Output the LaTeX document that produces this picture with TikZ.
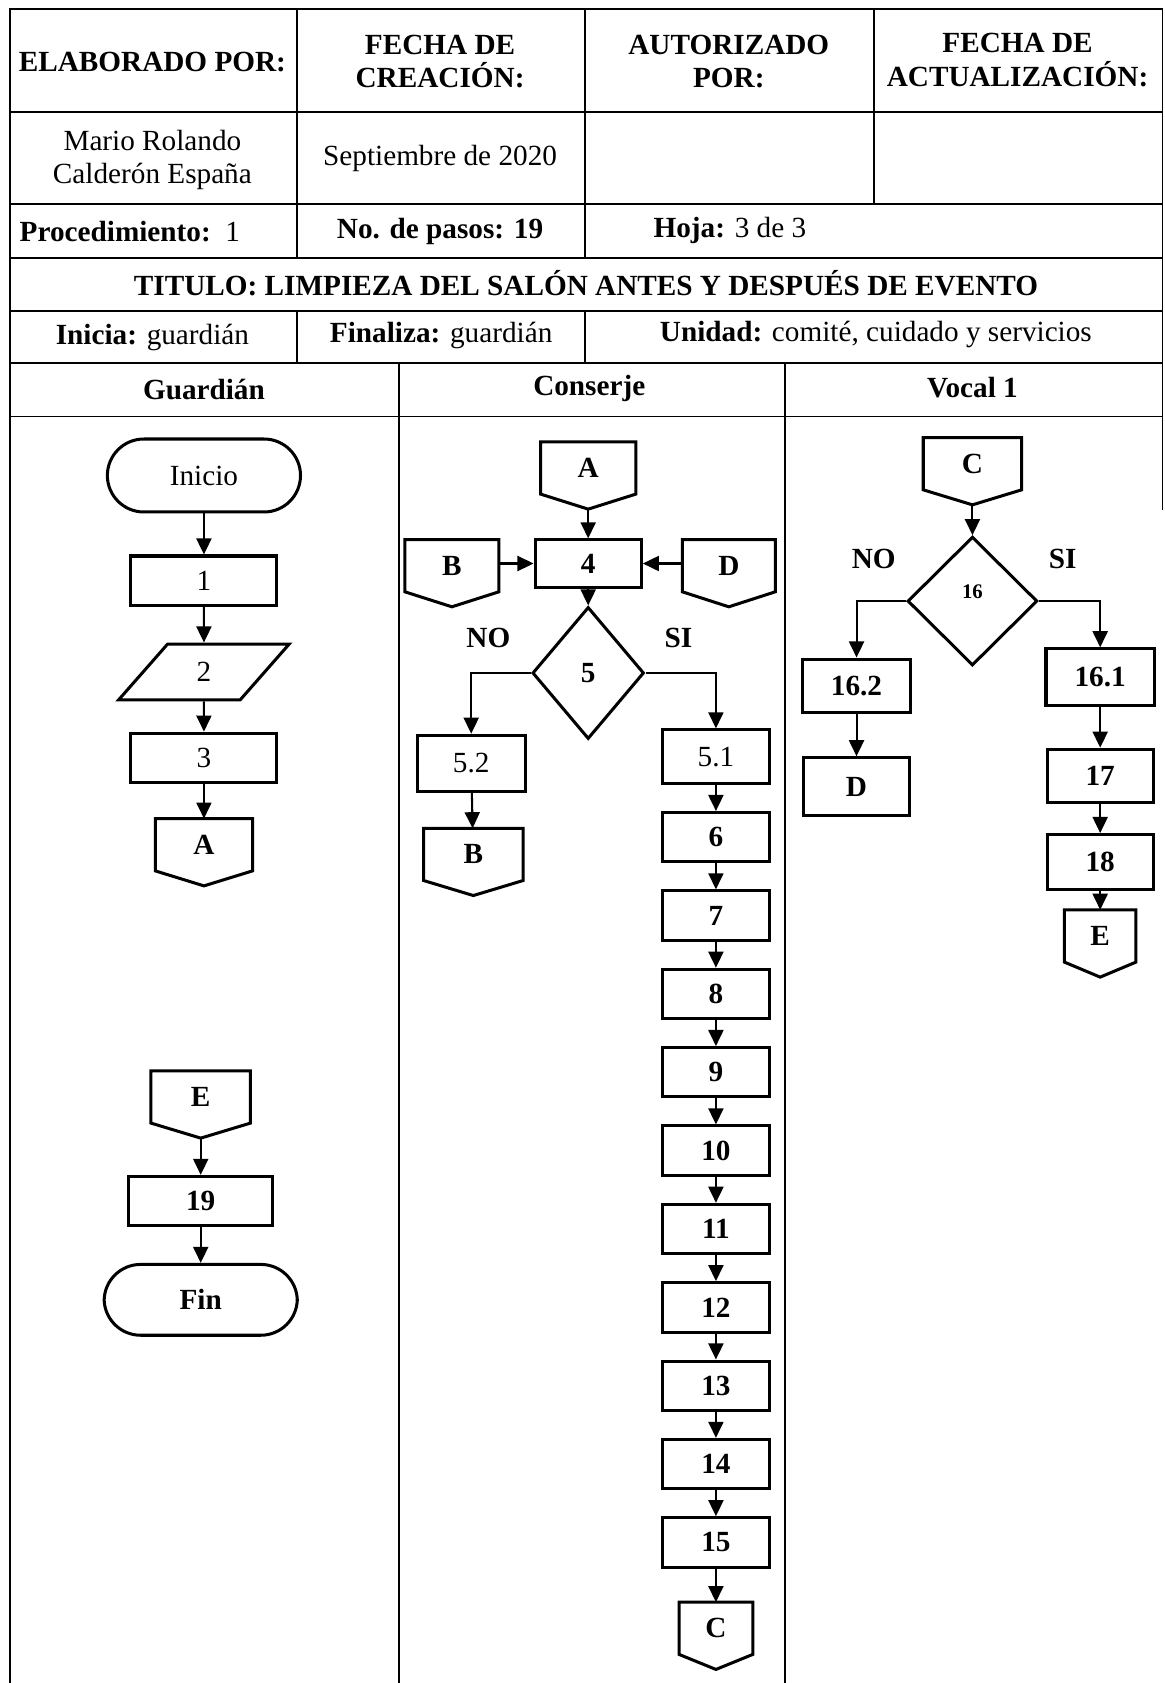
\documentclass[tikz,border=0pt]{standalone}
\usepackage{fontspec}
\setmainfont{Liberation Serif}
\usetikzlibrary{shapes.geometric, arrows.meta}

\newcommand\tam{\fontsize{15.5}{17.6}\selectfont}
\newcommand\conector[4]{%
	\node[conector, minimum width=#3cm] (#1) at (#2) {\raisebox{0.28cm}{#4}};
	\draw[forma] (#1.north west) -- (#1.north east) -- ([yshift=0.28cm]#1.south east)
		-- (#1.south) -- ([yshift=0.28cm]#1.south west) -- cycle;
}

\begin{document}
\begin{tikzpicture}[x=0.02cm, y=-0.02cm]
		\tikzset{tabla/.style = {line width=1pt}}
		\tikzset{celda/.style = {align=center, font=\tam\bfseries}}
		\tikzset{dato/.style = {align=center, font=\tam}}
		\tikzset{forma/.style = {draw, line width=1.6pt}}
		\tikzset{paso/.style = {forma, rectangle, inner sep=0pt, minimum width=1.98cm, minimum height=0.92cm, font=\tam\bfseries}}
		\tikzset{simple/.style = {font=\tam}}
		\tikzset{terminal/.style = {forma, rectangle, rounded corners=0.68cm, minimum width=3.6cm, minimum height=1.36cm, font=\tam}}
		\tikzset{entrada/.style = {forma, trapezium, trapezium stretches=true, trapezium left angle=63, trapezium right angle=117, inner sep=0pt, minimum width=3.18cm, minimum height=1.04cm, font=\tam}}
		\tikzset{decision/.style = {forma, diamond, inner sep=0pt, font=\tam\bfseries}}
		\tikzset{conector/.style = {inner sep=0pt, minimum height=1.24cm, font=\tam\bfseries}}
		\tikzset{etiqueta/.style = {font=\tam\bfseries}}
		\tikzset{edge/.style = {-{Triangle[length=0.3cm, width=0.28cm]}, line width=1.1pt}}
		
		\useasboundingbox (0,0) rectangle (1085,1568);
		
		\draw[tabla] (9,1568) -- (9,8) -- (1083,8) -- (1083,475);
		\draw[tabla] (9,104) -- (1083,104);
		\draw[tabla] (9,190) -- (1083,190);
		\draw[tabla] (9,240) -- (1083,240);
		\draw[tabla] (9,290) -- (1083,290);
		\draw[tabla] (9,338) -- (1083,338);
		\draw[tabla] (9,388) -- (1083,388);
		\draw[tabla] (277,8) -- (277,240);
		\draw[tabla] (277,290) -- (277,338);
		\draw[tabla] (545,8) -- (545,240);
		\draw[tabla] (545,290) -- (545,338);
		\draw[tabla] (814,8) -- (814,190);
		\draw[tabla] (372,338) -- (372,1568);
		\draw[tabla] (731,338) -- (731,1568);
		
		\node[celda]    (elab) at ( 142,   58) {ELABORADO POR:};
		\node[celda]   (fcrea) at ( 410,   57) {FECHA DE\\CREACIÓN:};
		\node[celda]   (autor) at ( 679,   57) {AUTORIZADO\\POR:};
		\node[celda]    (fact) at ( 948,   56) {FECHA DE\\ACTUALIZACIÓN:};
		\node[dato]   (nombre) at ( 142,  149) {Mario Rolando\\Calderón España};
		\node[dato]    (fecha) at ( 410,  148) {Septiembre de 2020};
		\node[dato]     (proc) at ( 121,  216) {\textbf{Procedimiento:}~~1};
		\node[dato]    (pasos) at ( 410,  216) {\textbf{No. de pasos: 19}};
		\node[dato]     (hoja) at ( 680,  215) {\textbf{Hoja:} 3 de 3};
		\node[celda]  (titulo) at ( 546,  264) {TITULO: LIMPIEZA DEL SALÓN ANTES Y DESPUÉS DE EVENTO};
		\node[dato]   (inicia) at ( 142,  314) {\textbf{Inicia:} guardián};
		\node[dato] (finaliza) at ( 411,  313) {\textbf{Finaliza:} guardián};
		\node[dato]   (unidad) at ( 816,  312) {\textbf{Unidad:} comité, cuidado y servicios};
		\node[celda] (guardian) at ( 190,  363) {Guardián};
		\node[celda] (conserje) at ( 549,  362) {Conserje};
		\node[celda]    (vocal) at ( 906,  361) {Vocal 1};
		
		\node[terminal]    (ini) at ( 190,  443) {Inicio};
		\node[paso, simple,
		  minimum width=2.72cm] (1) at ( 190,  541) {1};
		\node[entrada]       (2) at ( 190,  626) {2};
		\node[paso, simple,
		  minimum width=2.72cm] (3) at ( 190,  706) {3};
		\conector{A1}{190,794}{1.8}{A}
		\conector{E1}{187,1029}{1.84}{E}
		\node[paso, minimum width=2.68cm] (19) at ( 187, 1119) {19};
		\node[terminal, font=\tam\bfseries,
		  minimum height=1.32cm] (fin) at ( 187, 1211) {Fin};
		
		\conector{A2}{548,443}{1.76}{A}
		\node[paso, minimum height=0.88cm] (4) at ( 548,  525) {4};
		\conector{B1}{421,534}{1.74}{B}
		\conector{D1}{679,534}{1.72}{D}
		\node[decision, minimum width=2.08cm, minimum height=2.46cm] (5) at ( 548,  627) {5};
		\node[etiqueta]    (no5) at ( 455,  594) {NO};
		\node[etiqueta]    (si5) at ( 632,  594) {SI};
		\node[paso, simple, minimum width=2.02cm,
		  minimum height=1.04cm] (52) at ( 439,  711) {5.2};
		\conector{B2}{441,803}{1.84}{B}
		\node[paso, simple,
		  minimum height=1cm] (51) at ( 667,  705) {5.1};
		\node[paso]          (6) at ( 667,  780) {6};
		\node[paso]          (7) at ( 667,  853) {7};
		\node[paso]          (8) at ( 667,  926) {8};
		\node[paso]          (9) at ( 667,  999) {9};
		\node[paso]         (10) at ( 667, 1072) {10};
		\node[paso]         (11) at ( 667, 1145) {11};
		\node[paso]         (12) at ( 667, 1218) {12};
		\node[paso]         (13) at ( 667, 1291) {13};
		\node[paso]         (14) at ( 667, 1364) {14};
		\node[paso]         (15) at ( 667, 1437) {15};
		\conector{C2}{667,1524}{1.36}{C}
		
		\conector{C1}{906,439}{1.82}{C}
		\node[decision, minimum width=2.42cm, minimum height=2.4cm,
		  font=\fontsize{11}{13}\selectfont\bfseries] (16) at ( 906,  560) {\raisebox{0.36cm}{16}};
		\node[etiqueta]   (no16) at ( 814,  521) {NO};
		\node[etiqueta]   (si16) at ( 990,  521) {SI};
		\node[paso, minimum width=2.02cm,
		  minimum height=1cm] (162) at ( 798,  639) {16.2};
		\node[paso, minimum height=1.08cm] (D2) at ( 798,  733) {D};
		\node[paso, minimum width=2.02cm,
		  minimum height=1.06cm] (161) at (1025,  631) {16.1};
		\node[paso, minimum height=1cm] (17) at (1025,  723) {17};
		\node[paso, minimum height=1.02cm] (18) at (1025,  803) {18};
		\conector{E2}{1025,879}{1.32}{E}
		
		\draw[edge] (ini) to  (1);
		\draw[edge] (1) to  (2);
		\draw[edge] (2) to  (3);
		\draw[edge] (3) to (A1);
		\draw[edge] (E1) to (19);
		\draw[edge] (19) to (fin);
		
		\draw[edge] (A2) to  (4);
		\draw[edge] (B1.east |- 4) to  (4);
		\draw[edge] (D1.west |- 4) to  (4);
		\draw[edge] (4) to  (5);
		\draw[edge] (5) -| (52);
		\draw[edge] (5) -| (51);
		\draw[edge] (52) to (B2);
		\draw[edge] (51) to  (6);
		\draw[edge] (6) to  (7);
		\draw[edge] (7) to  (8);
		\draw[edge] (8) to  (9);
		\draw[edge] (9) to (10);
		\draw[edge] (10) to (11);
		\draw[edge] (11) to (12);
		\draw[edge] (12) to (13);
		\draw[edge] (13) to (14);
		\draw[edge] (14) to (15);
		\draw[edge] (15) to (C2);
		
		\draw[edge] (C1) to (16);
		\draw[edge] (16) -| (162);
		\draw[edge] (16) -| (161);
		\draw[edge] (162) to (D2);
		\draw[edge] (161) to (17);
		\draw[edge] (17) to (18);
		\draw[edge] (18) to (E2);
\end{tikzpicture}
\end{document}
